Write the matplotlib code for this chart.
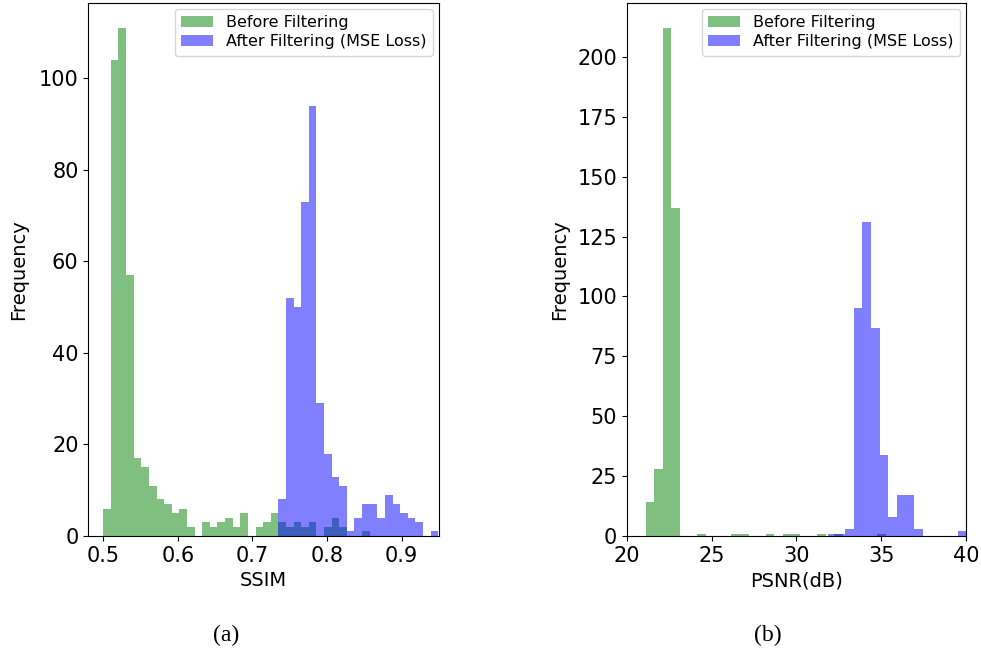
import numpy as np
import matplotlib
matplotlib.use("Agg")
import matplotlib.pyplot as plt

# (a) SSIM histogram: 44 equal bins from 0.5 to 0.949
ssim_lo, ssim_hi, ssim_nbins = 0.5, 0.949, 44
ssim_before = [6, 104, 111, 57, 17, 15, 11, 8, 7, 5, 6, 2, 0, 3, 2, 3, 4, 2, 5, 0, 2, 3,
               5, 3, 2, 3, 2, 3, 0, 2, 4, 2, 0, 0, 1, 0, 0, 0, 0, 0, 0, 0, 0, 0]
ssim_after = [0, 0, 0, 0, 0, 0, 0, 0, 0, 0, 0, 0, 0, 0, 0, 0, 0, 0, 0, 0, 0, 0,
              0, 8, 52, 50, 73, 94, 29, 18, 13, 11, 1, 4, 7, 7, 4, 9, 7, 5, 4, 3, 0, 1]

# (b) PSNR histograms: each series has its own bin grid (start, width)
psnr_before_start, psnr_before_width = 21.12, 0.505
psnr_before = [14, 28, 212, 137, 0, 0, 1, 0, 0, 0, 1, 1, 0, 0, 1, 0, 1, 1, 0, 0, 1, 0, 1,
               0, 0, 0, 0, 1, 0, 0, 0, 0, 0, 0, 0, 0, 0, 0]
psnr_after_start, psnr_after_width = 31.83, 0.511
psnr_after = [1, 1, 3, 95, 131, 87, 34, 8, 17, 17, 3, 0, 0, 0, 0, 2]

label_before = "Before Filtering"
label_after = "After Filtering (MSE Loss)"


def draw_hist(ax, edges, counts, color, label):
    edges = np.asarray(edges)
    ax.hist(edges[:-1], bins=edges, weights=counts, color=color, alpha=0.5, label=label)


fig = plt.figure(figsize=(9.81, 6.5), dpi=100)
ax1 = fig.add_axes([0.090, 0.1754, 0.3575, 0.8205])
ax2 = fig.add_axes([0.6388, 0.1754, 0.3462, 0.8205])

ssim_edges = np.linspace(ssim_lo, ssim_hi, ssim_nbins + 1)
draw_hist(ax1, ssim_edges, ssim_before, "g", label_before)
draw_hist(ax1, ssim_edges, ssim_after, "b", label_after)
ax1.set_xlim(0.48, 0.95)
ax1.set_xlabel("SSIM", fontsize=14)
ax1.set_ylabel("Frequency", fontsize=14, labelpad=8)

pb_edges = psnr_before_start + psnr_before_width * np.arange(len(psnr_before) + 1)
pa_edges = psnr_after_start + psnr_after_width * np.arange(len(psnr_after) + 1)
draw_hist(ax2, pb_edges, psnr_before, "g", label_before)
draw_hist(ax2, pa_edges, psnr_after, "b", label_after)
ax2.set_xlim(20, 40)
ax2.set_xlabel("PSNR(dB)", fontsize=14)
ax2.set_ylabel("Frequency", fontsize=14, labelpad=6)

for ax in (ax1, ax2):
    ax.tick_params(labelsize=15)
    ax.legend(loc="upper right", fontsize=11.5, borderaxespad=0.4, labelspacing=0.25)

fig.text(0.230, 0.014, "(a)", fontsize=17, family="Liberation Serif", ha="center")
fig.text(0.783, 0.014, "(b)", fontsize=17, family="Liberation Serif", ha="center")

fig.savefig("out.png", dpi=100)
